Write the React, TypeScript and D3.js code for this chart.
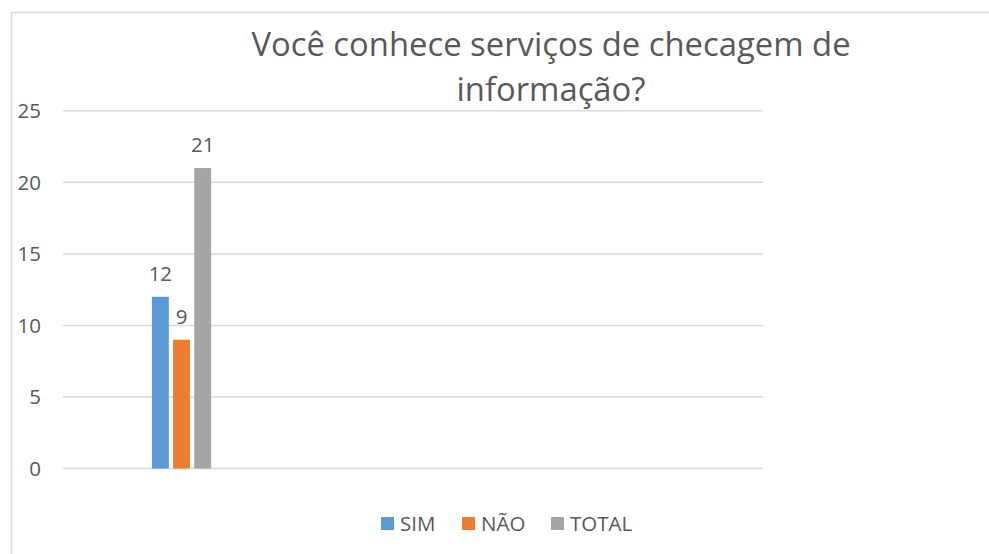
import React from "react";
import * as d3 from "d3";

const categories = ["Categoria 1", "Categoria 2", "Categoria 3"];
const seriesNames = ["SIM", "NÃO", "TOTAL"];
const simValues = [12, null, null];
const naoValues = [9, null, null];
const totalValues = [21, null, null];
const yTicks = [0, 5, 10, 15, 20, 25];
const titleLines = ["Você conhece serviços de checagem de", "informação?"];
const colors = ["#5B9BD5", "#ED7D31", "#A5A5A5"];

const W = 989;
const H = 554;
const FONT = "'Open Sans', sans-serif";
const TEXT = "#595959";

export default function App() {
  const plotLeft = 63;
  const plotRight = 763;
  const y = d3.scaleLinear().domain([0, 25]).range([468.5, 110.8]);
  const x0 = d3.scaleBand<string>().domain(categories).range([plotLeft, plotRight]);
  const bw0 = x0.bandwidth();
  const seriesValues = [simValues, naoValues, totalValues];

  const bars: JSX.Element[] = [];
  const labels: JSX.Element[] = [];
  categories.forEach((cat, ci) => {
    const start = x0(cat)!;
    const x1 = d3
      .scaleBand<string>()
      .domain(seriesNames)
      .range([start + bw0 * 0.381, start + bw0 * 0.635])
      .paddingInner(0.2);
    seriesNames.forEach((s, si) => {
      const v = seriesValues[si][ci];
      if (v == null) return;
      const bx = x1(s)!;
      const bw = x1.bandwidth();
      bars.push(
        <rect key={`b-${ci}-${si}`} x={bx} y={y(v)} width={bw} height={y(0) - y(v)} fill={colors[si]} />
      );
      labels.push(
        <text
          key={`l-${ci}-${si}`}
          x={bx + bw / 2}
          y={y(v) - 16}
          textAnchor="middle"
          fontSize={20.5}
          fill={TEXT}
          fontFamily={FONT}
        >
          {v}
        </text>
      );
    });
  });

  const legendItems = [
    { name: seriesNames[0], sx: 381, tx: 400 },
    { name: seriesNames[1], sx: 462, tx: 481 },
    { name: seriesNames[2], sx: 551, tx: 570 },
  ];

  return (
    <svg
      width={W}
      height={H}
      style={{ position: "absolute", left: 0, top: 0, background: "#fff" }}
      fontFamily={FONT}
    >
      <rect x={0} y={0} width={W} height={H} fill="#fff" />
      <rect x={11.5} y={12.5} width={1000} height={600} fill="none" stroke="#D9D9D9" strokeWidth={1.5} />
      {titleLines.map((t, i) => (
        <text key={t} x={551} y={55.5 + i * 45.5} textAnchor="middle" fontSize={32.8} fill={TEXT}>
          {t}
        </text>
      ))}
      {yTicks.map((t) => (
        <g key={t}>
          <line x1={plotLeft} x2={plotRight} y1={y(t)} y2={y(t)} stroke="#D9D9D9" strokeWidth={1.5} />
          <text x={41} y={y(t)} dy="0.35em" textAnchor="end" fontSize={20.5} fill={TEXT}>
            {t}
          </text>
        </g>
      ))}
      {bars}
      {labels}
      {legendItems.map((it, i) => (
        <g key={it.name}>
          <rect x={it.sx} y={517} width={13} height={13} fill={colors[i]} />
          <text x={it.tx} y={524} dy="0.35em" fontSize={20.5} fill={TEXT}>
            {it.name}
          </text>
        </g>
      ))}
    </svg>
  );
}
